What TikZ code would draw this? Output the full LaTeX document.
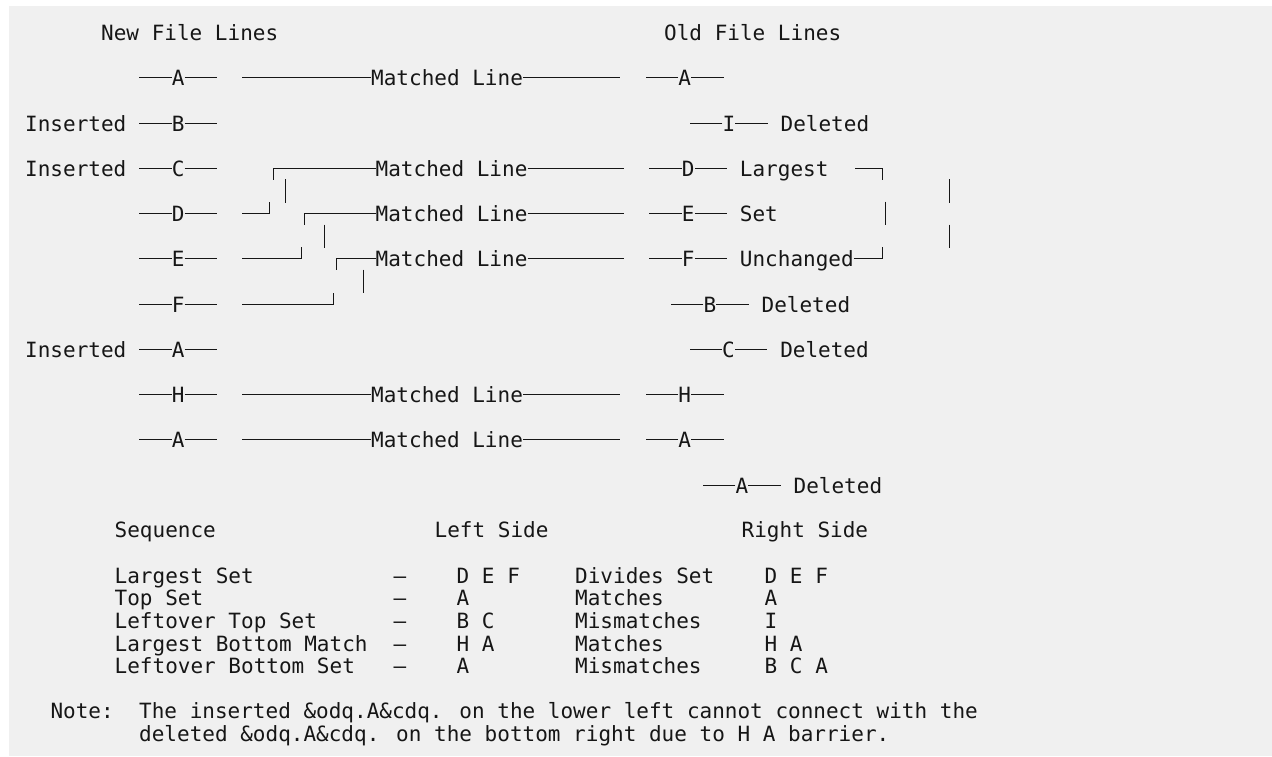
\documentclass[tikz,border=0pt]{standalone}
\usepackage{fontspec}
\newfontfamily\codefont{DejaVu Sans Mono}
\definecolor{paper}{RGB}{240,240,240}
\definecolor{ink}{RGB}{22,22,22}
\tikzset{
  txt/.style={font=\codefont\fontsize{21pt}{25pt}\selectfont, text=ink, inner sep=0pt,
    text height=15pt, text depth=0pt, anchor=west},
  wire/.style={draw=ink, line width=1.1pt},
}
\begin{document}
\begin{tikzpicture}[x=1pt, y=-1pt]
  % page and grey panel
  \useasboundingbox (0,0) rectangle (1272,756);
  \fill[white] (0,0) rectangle (1272,756);
  \fill[paper] (9,6) rectangle (1272,756);

  % column headings
  \node[txt] (newhead) at (101,32.5) {New File Lines};
  \node[txt] (oldhead) at (664,32.5) {Old File Lines};

  % new file lines
  \foreach \lt/\rw in {A/2,B/4,C/6,D/8,E/10,F/12,A/14,H/16,A/18}{
    \pgfmathsetmacro{\yy}{floor(32.5+22.63*\rw)+0.5}
    \node[txt] (new\rw) at (171.6,\yy) {\lt};
    \draw[wire] (new\rw.west) -- ++(-32.3,0) (new\rw.east) -- ++(32.4,0);
  }
  \foreach \rw in {4,6,14}{
    \pgfmathsetmacro{\yy}{floor(32.5+22.63*\rw)+0.5}
    \node[txt] (ins\rw) at (25,\yy) {Inserted};
  }

  % old file lines
  \foreach \lt/\rw/\xx in {A/2/678.1,I/4/722.4,D/6/681.7,E/8/681.7,F/10/681.7,
      B/12/703.4,C/14/722.0,H/16/678.1,A/18/678.1,A/20/735.4}{
    \pgfmathsetmacro{\yy}{floor(32.5+22.63*\rw)+0.5}
    \node[txt] (old\rw) at (\xx,\yy) {\lt};
    \draw[wire] (old\rw.west) -- ++(-32.3,0) (old\rw.east) -- ++(32.4,0);
  }
  \foreach \rw/\lab in {4/Deleted,6/Largest,8/Set,10/Unchanged,12/Deleted,14/Deleted,20/Deleted}
    \node[txt] (lab\rw) at ([xshift=45pt]old\rw.east) {\lab};

  % straight matches
  \foreach \rw in {2,16,18}{
    \pgfmathsetmacro{\yy}{floor(32.5+22.63*\rw)+0.5}
    \node[txt] (match\rw) at (371,\yy) {Matched Line};
    \draw[wire] (match\rw.west) -- ++(-129.3,0) (match\rw.east) -- ++(97.3,0);
  }

  % the largest set, matched with a shift
  \foreach \rw/\dx in {6/-102,8/-71,10/-39}{
    \pgfmathsetmacro{\yy}{floor(32.5+22.63*\rw)+0.5}
    \node[txt] (match\rw) at (375.5,\yy) {Matched Line};
    \draw[wire] (match\rw.east) -- ++(96.8,0);
    \draw[wire] (match\rw.west) -| ++(\dx,11.6);
  }
  \foreach \rw/\len in {8/27.8,10/59.8,12/91.8}
    \draw[wire] ([xshift=57.5pt]new\rw.east) -- ++(\len,0) -- ++(0,-11.8);

  % loose bars on the in-between lines
  \foreach \xx/\yy in {285.5/190.9,324.5/236.2,363.5/281.4,949.5/190.9,949.5/236.2}
    \draw[wire] (\xx,\yy-11.7) -- (\xx,\yy+11.7);

  % bracket round Largest Set Unchanged
  \draw[wire] ([xshift=26.4pt]lab6.east) -- ++(27.2,0) -- ++(0,11.7);
  \draw[wire] (885.5,201.7) -- (885.5,225.2);
  \draw[wire] (lab10.east) -- ++(28.3,0) -- ++(0,-11.8);

  % summary table
  \node[txt] (seqhead) at (114.5,530.4) {Sequence};
  \node[txt] (lefthead) at (434.5,530.4) {Left Side};
  \node[txt] (righthead) at (741.5,530.4) {Right Side};
  \foreach \rw/\seq/\lset/\how/\rset in {24/Largest Set/D E F/Divides Set/D E F,
      25/Top Set/A/Matches/A,
      26/Leftover Top Set/B C/Mismatches/I,
      27/Largest Bottom Match/H A/Matches/H A,
      28/Leftover Bottom Set/A/Mismatches/B C A}{
    \pgfmathsetmacro{\yy}{32.5+22.63*\rw}
    \node[txt] (seq\rw) at (114.5,\yy) {\seq};
    \node[txt, anchor=center] (dash\rw) at (400,\yy) {–};
    \node[txt] (lset\rw) at (456.5,\yy) {\lset};
    \node[txt] (how\rw) at (575,\yy) {\how};
    \node[txt] (rset\rw) at (764.5,\yy) {\rset};
  }

  % note
  \node[txt] (note) at (50.3,711.4) {Note:};
  \node[txt] (noteA) at (139,711.4) {The inserted \&odq.A\&cdq. on the lower left cannot connect with the};
  \node[txt] (noteB) at (139,734.0) {deleted \&odq.A\&cdq. on the bottom right due to H A barrier.};
\end{tikzpicture}
\end{document}
